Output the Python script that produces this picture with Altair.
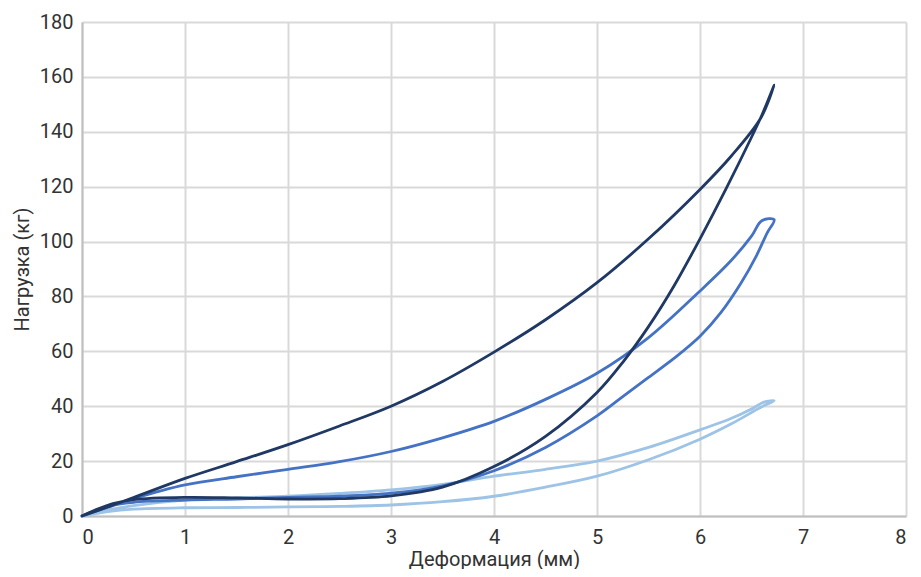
import altair as alt
import pandas as pd

# Dark loop (largest load): outward branch then return branch
dark_x = [0, 0.25, 0.5, 1, 1.5, 2, 2.5, 3, 3.5, 4, 4.5, 5, 5.5, 6, 6.3, 6.59, 6.72,
          6.6, 6.5, 6.25, 6, 5.75, 5.5, 5.25, 5, 4.5, 4, 3.5, 3, 2.5, 2, 1.5, 1, 0.5, 0.3, 0.15, 0]
dark_y = [0, 3.3, 6.7, 13.7, 19.8, 26, 32.8, 40, 49, 59.7, 71.5, 85, 101, 119, 131, 145, 157,
          146, 138, 119, 101, 84, 69, 56, 45, 29, 18, 10.5, 7.3, 6.3, 6.2, 6.6, 6.8, 6, 4.5, 2.5, 0]

# Medium loop
med_x = [0, 0.25, 0.5, 1, 1.5, 2, 2.5, 3, 3.5, 4, 4.5, 5, 5.5, 6, 6.3, 6.5, 6.6, 6.72,
         6.65, 6.55, 6.4, 6.2, 6, 5.75, 5.5, 5.25, 5, 4.5, 4, 3.5, 3, 2.5, 2, 1.5, 1, 0.5, 0.25, 0]
med_y = [0, 3.2, 6.3, 11.3, 14.3, 17, 19.8, 23.5, 28.5, 34.5, 42.5, 52, 65, 82, 93, 102, 107.6, 108,
         103, 95, 85, 74, 65.5, 57.5, 50.5, 43.5, 36.5, 25, 16.5, 11, 8.3, 7.2, 6.8, 6.2, 5.8, 5, 3.5, 0]

# Light loop
light_x = [0, 0.25, 0.5, 1, 1.5, 2, 2.5, 3, 3.5, 4, 4.5, 5, 5.5, 6, 6.3, 6.5, 6.62, 6.72,
           6.6, 6.3, 6, 5.5, 5, 4.5, 4, 3.5, 3, 2.5, 2, 1.5, 1, 0.5, 0.25, 0]
light_y = [0, 2.2, 3.8, 5.8, 6.6, 7.2, 8.2, 9.5, 11.5, 14.5, 17, 20, 25, 31.4, 35.5, 39, 41.5, 42,
           39.8, 33.5, 28, 20.5, 14.5, 10.5, 7.2, 5.2, 4, 3.5, 3.3, 3.1, 3, 2.5, 1.6, 0]

series = [("c_light", light_x, light_y), ("b_med", med_x, med_y), ("a_dark", dark_x, dark_y)]
colors = {"a_dark": "#1f3864", "b_med": "#4472c4", "c_light": "#9dc3e6"}

rows = []
for name, xs, ys in series:
    for i, (xv, yv) in enumerate(zip(xs, ys)):
        rows.append({"s": name, "i": i, "x": xv, "y": yv})
df = pd.DataFrame(rows)

x_ticks = [0, 1, 2, 3, 4, 5, 6, 7, 8]
y_ticks = [0, 20, 40, 60, 80, 100, 120, 140, 160, 180]

base = alt.Chart(df)
layers = []
for name, _, _ in series:
    layers.append(
        base.transform_filter(alt.datum.s == name)
        .mark_line(interpolate="catmull-rom", strokeWidth=2.8, color=colors[name], strokeCap="round")
        .encode(
            x=alt.X("x:Q", scale=alt.Scale(domain=[0, 8], nice=False),
                    axis=alt.Axis(values=x_ticks, title="Деформация (мм)", format="d",
                                  labelPadding=11, titleY=49, titleBaseline="alphabetic")),
            y=alt.Y("y:Q", scale=alt.Scale(domain=[0, 180], nice=False),
                    axis=alt.Axis(values=y_ticks, title="Нагрузка (кг)", format="d",
                                  labelPadding=9, titlePadding=7)),
            order="i:Q",
        )
    )

chart = alt.layer(*layers).properties(
    width=824, height=494,
    padding={"left": 74, "top": 14, "right": 7, "bottom": 53},
    autosize=alt.AutoSizeParams(type="none"),
).configure_axis(
    grid=True, gridColor="#d9d9d9", gridWidth=2,
    domainColor="#bfbfbf", domainWidth=2, ticks=False,
    labelFont="Roboto", labelFontSize=20, labelColor="#333333",
    titleFont="Roboto", titleFontSize=20, titleColor="#333333", titleFontWeight="normal",
).configure_view(stroke=None)

chart.save("out.html", embed_options={"renderer": "svg", "actions": False})
